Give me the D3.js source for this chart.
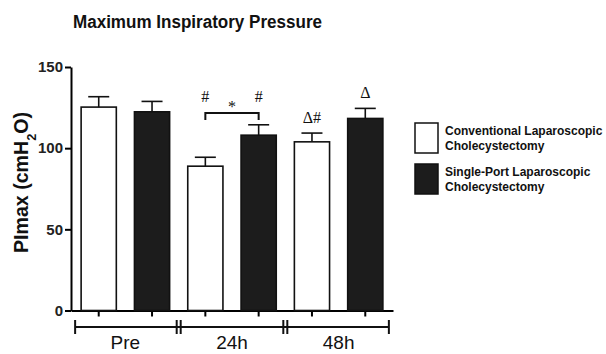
<!DOCTYPE html>
<html>
<head>
<meta charset="utf-8">
<script src="https://cdn.jsdelivr.net/npm/d3@7"></script>
<style>
  body { margin: 0; background: #fff; }
  svg { font-family: "Liberation Sans", Arial, sans-serif; }
  .axis path, .axis line { stroke: #000; stroke-width: 2; }
  .axis text { font-size: 15px; font-weight: bold; fill: #222; }
  .sig { font-family: "Liberation Serif", "Times New Roman", serif; font-size: 16px; }
</style>
</head>
<body>
<div id="chart"></div>
<script>
// time points, one group of two bars each
const GROUPS = ["Pre", "24h", "48h"];
const SERIES = ["Conventional Laparoscopic Cholecystectomy", "Single-Port Laparoscopic Cholecystectomy"];
// mean PImax (cmH2O) and SEM
const CONVENTIONAL = [125.3, 88.9, 103.9];
const CONVENTIONAL_SEM = [6.4, 5.5, 5.4];
const SINGLE_PORT = [122.4, 108, 118.3];
const SINGLE_PORT_SEM = [6.4, 6.4, 6.2];
const Y_TICKS = [0, 50, 100, 150];
// significance marks above bars: [group, series, text]
const MARKS = [["24h", 0, "#"], ["24h", 1, "#"], ["48h", 0, "Δ#"], ["48h", 1, "Δ"]];

const W = 606, H = 354;
const svg = d3.select("#chart").append("svg").attr("width", W).attr("height", H);

// flatten to one bar list so all six bars sit on one band scale
const bars = [];
GROUPS.forEach((g, i) => {
  bars.push({ key: g + "|0", group: g, s: 0, v: CONVENTIONAL[i], e: CONVENTIONAL_SEM[i] });
  bars.push({ key: g + "|1", group: g, s: 1, v: SINGLE_PORT[i], e: SINGLE_PORT_SEM[i] });
});

const x = d3.scaleBand().domain(bars.map(d => d.key)).range([71, 393])
    .paddingInner(0.34).paddingOuter(0.19);
const y = d3.scaleLinear().domain([0, 150]).range([310.5, 67]);

// title (the source image is a little squeezed sideways)
svg.append("text").attr("x", 73).attr("y", 28)
    .attr("font-size", 18).attr("font-weight", "bold").attr("fill", "#111")
    .attr("textLength", 249).attr("lengthAdjust", "spacingAndGlyphs")
    .text("Maximum Inspiratory Pressure");

// y axis
svg.append("g").attr("class", "axis").attr("transform", "translate(71,0)")
    .call(d3.axisLeft(y).tickValues(Y_TICKS).tickSize(6).tickSizeOuter(0).tickPadding(2));
svg.append("text")
    .attr("transform", `translate(28,182.5) rotate(-90)`)
    .attr("text-anchor", "middle").attr("font-size", 20).attr("font-weight", "bold").attr("fill", "#111")
    .attr("textLength", 141).attr("lengthAdjust", "spacingAndGlyphs")
    .html('PImax (cmH<tspan baseline-shift="sub" font-size="13">2</tspan>O)');

// x baseline with ticks under each bar
svg.append("g").attr("class", "axis").attr("transform", `translate(0,${y(0)})`)
    .call(d3.axisBottom(x).tickSize(6).tickSizeOuter(0).tickFormat(""));

// bars
svg.append("g").selectAll("rect").data(bars).join("rect")
    .attr("x", d => x(d.key)).attr("width", x.bandwidth())
    .attr("y", d => y(d.v)).attr("height", d => y(0) - y(d.v))
    .attr("fill", d => d.s ? "#1c1c1c" : "#fff")
    .attr("stroke", "#111").attr("stroke-width", 1.6);

// error bars (upper only)
const err = svg.append("g").attr("stroke", "#111").attr("stroke-width", 1.6);
bars.forEach(d => {
  const cx = x(d.key) + x.bandwidth() / 2;
  err.append("line").attr("x1", cx).attr("x2", cx).attr("y1", y(d.v)).attr("y2", y(d.v + d.e));
  err.append("line").attr("x1", cx - 10.5).attr("x2", cx + 10.5).attr("y1", y(d.v + d.e)).attr("y2", y(d.v + d.e));
});

// group line under the axis, with || breaks between groups
const step = x.step();
const gy = 327;
const grp = svg.append("g").attr("stroke", "#111").attr("stroke-width", 2);
const gLeft = x(GROUPS[0] + "|0") - 6;
const gRight = x(GROUPS[GROUPS.length - 1] + "|1") + x.bandwidth() + 6;
grp.append("line").attr("x1", gLeft).attr("x2", gRight).attr("y1", gy).attr("y2", gy);
[gLeft, gRight].forEach(v => grp.append("line").attr("x1", v).attr("x2", v).attr("y1", gy - 7).attr("y2", gy + 7));
GROUPS.forEach((g, i) => {
  if (i > 0) {
    const mid = x(g + "|0") - (step - x.bandwidth()) / 2;
    [mid - 2, mid + 2].forEach(v => grp.append("line").attr("x1", v).attr("x2", v).attr("y1", gy - 7).attr("y2", gy + 7));
  }
  svg.append("text").attr("x", (x(g + "|0") + x(g + "|1") + x.bandwidth()) / 2).attr("y", 349)
      .attr("text-anchor", "middle").attr("font-size", 19).attr("fill", "#111").text(g);
});

// significance marks
MARKS.forEach(([g, s, t]) => {
  const i = GROUPS.indexOf(g);
  const v = s ? SINGLE_PORT[i] + SINGLE_PORT_SEM[i] : CONVENTIONAL[i] + CONVENTIONAL_SEM[i];
  const b = bars.find(d => d.key === g + "|" + s);
  const top = g === "24h" ? 102 : y(v) - 10;
  svg.append("text").attr("class", "sig").attr("x", x(b.key) + x.bandwidth() / 2)
      .attr("y", top).attr("text-anchor", "middle").attr("fill", "#111").text(t);
});

// bracket with * between the two 24h bars
const bx1 = x("24h|0") + x.bandwidth() / 2, bx2 = x("24h|1") + x.bandwidth() / 2;
svg.append("path").attr("fill", "none").attr("stroke", "#111").attr("stroke-width", 2)
    .attr("d", `M${bx1},120V113H${bx2}V120`);
svg.append("text").attr("class", "sig").attr("x", (bx1 + bx2) / 2).attr("y", 112)
    .attr("text-anchor", "middle").attr("fill", "#111").text("*");

// legend
const lg = svg.append("g").attr("transform", "translate(415,123)");
SERIES.forEach((name, i) => {
  const row = lg.append("g").attr("transform", `translate(0,${i * 41})`);
  row.append("rect").attr("width", 23).attr("height", 30)
      .attr("fill", i ? "#1c1c1c" : "#fff").attr("stroke", "#111").attr("stroke-width", 1.5);
  const words = name.split(" ");
  const l1 = words.slice(0, 2).join(" "), l2 = words.slice(2).join(" ");
  [l1, l2].forEach((t, k) => row.append("text").attr("x", 30).attr("y", 12 + k * 14.5)
      .attr("font-size", 12).attr("font-weight", "bold").attr("fill", "#111").text(t));
});
</script>
</body>
</html>
